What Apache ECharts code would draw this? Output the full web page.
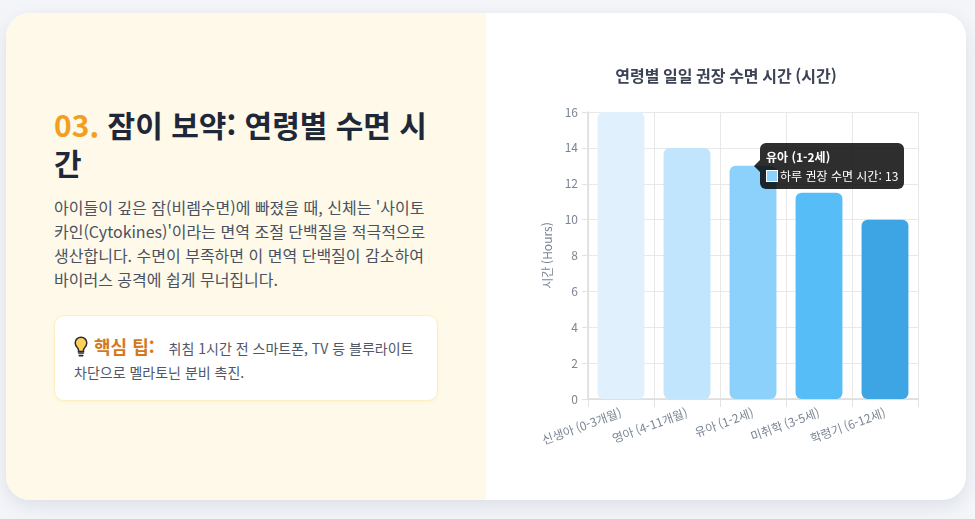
<!DOCTYPE html>
<html lang="ko">
<head>
<meta charset="utf-8">
<script src="https://cdn.jsdelivr.net/npm/echarts@6/dist/echarts.min.js"></script>
<style>
  html, body { margin: 0; padding: 0; background: #f3f5f9; width: 975px; height: 519px; overflow: hidden; }
  body { font-family: "Noto Sans CJK KR", "Noto Sans", sans-serif; }
  .card {
    position: absolute; left: 6px; top: 13px; width: 960px; height: 487px;
    border-radius: 24px; overflow: hidden; background: #fff;
    box-shadow: 0 6px 18px rgba(30, 40, 70, 0.10);
  }
  .left {
    position: absolute; left: 0; top: 0; width: 480px; height: 487px; background: #fef9e8;
  }
  .content { position: absolute; left: 48px; top: 92px; width: 384px; }
  h2 {
    margin: 0; font-size: 30px; line-height: 38px; font-weight: 700; color: #1e2838;
  }
  h2 .num { color: #f29e1f; }
  p.desc {
    margin: 14px 0 0 0; font-size: 16px; line-height: 24px; color: #4a5262;
  }
  .tip {
    margin-top: 24px; background: #fff; border: 1px solid #fbefc6; border-radius: 10px;
    padding: 18px 20px 16px 19px; font-size: 14px; line-height: 24px; color: #4f5767;
    box-shadow: 0 1px 3px rgba(240, 200, 100, 0.15);
  }
  .tip svg { vertical-align: -4px; margin-right: 6px; }
  .tip b { color: #d3791b; font-size: 18px; margin-right: 14px; }
  #chart { position: absolute; left: 480px; top: 0; width: 480px; height: 487px; }
</style>
</head>
<body>
<div class="card">
  <div class="left">
    <div class="content">
      <h2><span class="num">03.</span> 잠이 보약: 연령별 수면 시간</h2>
      <p class="desc">아이들이 깊은 잠(비렘수면)에 빠졌을 때, 신체는 '사이토카인(Cytokines)'이라는 면역 조절 단백질을 적극적으로 생산합니다. 수면이 부족하면 이 면역 단백질이 감소하여 바이러스 공격에 쉽게 무너집니다.</p>
      <div class="tip"><svg width="14" height="22" viewBox="0 0 14 22"><path d="M7 1.2C3.7 1.2 1.2 3.7 1.2 6.9c0 2.2 1.2 3.6 2.2 4.8.7.8 1.1 1.5 1.1 2.4v1.4h5v-1.4c0-.9.4-1.6 1.1-2.4 1-1.2 2.2-2.6 2.2-4.8C12.8 3.7 10.3 1.2 7 1.2z" fill="#fbd15b" stroke="#2b2b2b" stroke-width="1.5"/><path d="M4.6 17h4.8M5.2 19.6h3.6" stroke="#2b2b2b" stroke-width="1.6" stroke-linecap="round"/></svg><b>핵심 팁:</b>취침 1시간 전 스마트폰, TV 등 블루라이트 차단으로 멜라토닌 분비 촉진.</div>
    </div>
  </div>
  <div id="chart"></div>
</div>
<script>
var chartTitle = '연령별 일일 권장 수면 시간 (시간)';
var seriesName = '하루 권장 수면 시간';
var yAxisName = '시간 (Hours)';
var ageGroups = ['신생아 (0-3개월)', '영아 (4-11개월)', '유아 (1-2세)', '미취학 (3-5세)', '학령기 (6-12세)'];
var sleepHours = [16, 14, 13, 11.5, 10];
var barColors = ['#e1f0fd', '#c1e5fc', '#8cd1fb', '#56bdf7', '#3da5e4'];
var highlightIndex = 2;

var myChart = echarts.init(document.getElementById('chart'));
var font = '"Noto Sans CJK KR", "Noto Sans", sans-serif';

var option = {
    animation: false,
    textStyle: { fontFamily: font },
    title: {
        text: chartTitle,
        left: 'center',
        top: 50,
        textStyle: { fontSize: 16, fontWeight: 'bold', color: '#3b4354', fontFamily: font }
    },
    grid: { left: 102, right: 48, top: 99, bottom: 101, containLabel: false },
    tooltip: {
        trigger: 'item',
        triggerOn: 'none',
        alwaysShowContent: true,
        transitionDuration: 0,
        backgroundColor: 'rgba(0,0,0,0.82)',
        borderWidth: 0,
        padding: [5, 6, 5, 6],
        extraCssText: 'border-radius:6px; box-shadow:none; overflow:visible;',
        textStyle: { color: '#fff', fontSize: 12, fontFamily: font },
        position: function (point, params, dom, rect, size) {
            var h = size.contentSize[1];
            if (rect) {
                return [rect.x + rect.width / 2 + 7, rect.y - h / 2];
            }
            return [point[0] + 7, point[1] - h / 2];
        },
        formatter: function (p) {
            return '<div style="position:absolute;left:-6px;top:50%;margin-top:-6px;width:0;height:0;' +
                'border-top:6px solid transparent;border-bottom:6px solid transparent;border-right:6px solid rgba(0,0,0,0.82);"></div>' +
                '<div style="font-weight:bold;font-size:12px;line-height:18px;margin-bottom:2px;">' + p.name + '</div>' +
                '<div style="line-height:16px;"><span style="display:inline-block;width:10px;height:10px;vertical-align:-1px;' +
                'background:' + barColors[p.dataIndex] + ';border:1px solid #fff;margin-right:2px;"></span>' +
                p.seriesName + ': ' + p.value + '</div>';
        }
    },
    xAxis: {
        type: 'category',
        data: ageGroups,
        boundaryGap: true,
        axisLine: { show: true, lineStyle: { color: '#dcdcdc', width: 1.5 } },
        axisTick: { show: true, length: 8, lineStyle: { color: '#e2e2e2' } },
        splitLine: { show: true, lineStyle: { color: '#e8e8e8' } },
        axisLabel: {
            interval: 0,
            rotate: 20,
            margin: 13,
            color: '#7b8596',
            fontSize: 12,
            fontFamily: font
        }
    },
    yAxis: {
        type: 'value',
        min: 0,
        max: 16,
        interval: 2,
        name: yAxisName,
        nameLocation: 'middle',
        nameGap: 34,
        nameRotate: 90,
        nameTextStyle: { color: '#7b8596', fontSize: 12, fontFamily: font },
        axisLine: { show: true, lineStyle: { color: '#dcdcdc', width: 1.5 } },
        axisTick: { show: true, length: 6, lineStyle: { color: '#e2e2e2' } },
        splitLine: { show: true, lineStyle: { color: '#e8e8e8' } },
        axisLabel: { margin: 10, color: '#7b8596', fontSize: 12, fontFamily: font }
    },
    series: [
        {
            name: seriesName,
            type: 'bar',
            barCategoryGap: '29%',
            data: sleepHours.map(function (v, i) {
                return { value: v, itemStyle: { color: barColors[i] } };
            }),
            itemStyle: { borderRadius: 6 },
            emphasis: { disabled: true }
        }
    ]
};

myChart.setOption(option, true);
myChart.dispatchAction({ type: 'showTip', seriesIndex: 0, dataIndex: highlightIndex });
</script>
</body>
</html>
